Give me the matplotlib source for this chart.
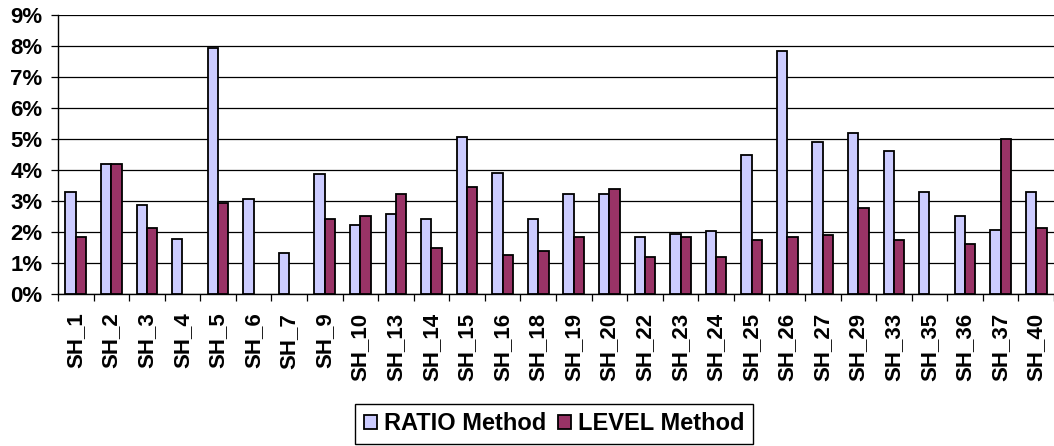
import numpy as np
import matplotlib
matplotlib.use("Agg")
import matplotlib.pyplot as plt
from matplotlib.ticker import FuncFormatter, MultipleLocator, FixedLocator

plt.rcParams['font.family'] = ['Liberation Sans', 'DejaVu Sans']

sites = ["SH_1", "SH_2", "SH_3", "SH_4", "SH_5", "SH_6", "SH_7", "SH_9", "SH_10",
         "SH_13", "SH_14", "SH_15", "SH_16", "SH_18", "SH_19", "SH_20", "SH_22",
         "SH_23", "SH_24", "SH_25", "SH_26", "SH_27", "SH_29", "SH_33", "SH_35",
         "SH_36", "SH_37", "SH_40"]
ratio_method = [3.28, 4.20, 2.88, 1.78, 7.95, 3.05, 1.31, 3.87, 2.24,
                2.59, 2.42, 5.08, 3.91, 2.42, 3.23, 3.23, 1.84,
                1.95, 2.02, 4.49, 7.84, 4.89, 5.18, 4.60, 3.28,
                2.53, 2.08, 3.28]
level_method = [1.84, 4.20, 2.13, 0.0, 2.94, 0.0, 0.0, 2.42, 2.53,
                3.23, 1.49, 3.45, 1.26, 1.38, 1.84, 3.40, 1.20,
                1.84, 1.20, 1.73, 1.84, 1.89, 2.76, 1.73, 0.0,
                1.60, 5.01, 2.13]
series_names = ["RATIO Method", "LEVEL Method"]

fig = plt.figure(figsize=(10.54, 4.46), dpi=100)
ax = fig.add_axes([58 / 1054, 1 - 294 / 446, 1 - 58 / 1054, (294 - 15) / 446])

x = np.arange(len(sites))
w = 0.29
series = [(ratio_method, "#CCCCFF", -w / 2), (level_method, "#993366", w / 2)]
for (vals, color, off), name in zip(series, series_names):
    bars = ax.bar(x + off, vals, w, color=color, edgecolor="black",
                  linewidth=1.3, label=name, zorder=3)
    # empty cells: no outline drawn along the baseline
    for b, v in zip(bars, vals):
        if v == 0:
            b.set_linewidth(0)

ax.set_xlim(-0.5, len(sites) - 0.5)
ax.set_ylim(0, 9)
ax.yaxis.set_major_locator(MultipleLocator(1))
ax.yaxis.set_major_formatter(FuncFormatter(lambda v, p: f"{int(round(v))}%"))
ax.grid(axis="y", color="black", linewidth=0.9, zorder=0)

ax.set_xticks(x)
ax.set_xticklabels(sites, rotation=90, fontsize=16, fontweight="bold")
ax.xaxis.set_minor_locator(FixedLocator(np.arange(-0.5, len(sites), 1.0)))
ax.tick_params(axis="x", which="major", length=0, pad=13.5)
ax.tick_params(axis="x", which="minor", length=5, width=0.9, direction="out")
ax.tick_params(axis="y", length=5, width=0.9, direction="out", pad=6,
               labelsize=16)
for lab in ax.get_yticklabels():
    lab.set_fontweight("bold")

for s in ("top", "right"):
    ax.spines[s].set_visible(False)
for s in ("left", "bottom"):
    ax.spines[s].set_linewidth(1.0)
    ax.spines[s].set_color("black")

leg = ax.legend(loc="center", bbox_to_anchor=(554 / 1054, 1 - 424 / 446),
                bbox_transform=fig.transFigure, ncol=2, frameon=True,
                fancybox=False, edgecolor="black", framealpha=1,
                prop={"weight": "bold", "size": 17},
                handlelength=0.55, handleheight=0.55, handletextpad=0.3,
                columnspacing=0.5, borderpad=0.35, borderaxespad=0)
leg.get_frame().set_linewidth(1.0)

fig.savefig("out.png", dpi=100)
